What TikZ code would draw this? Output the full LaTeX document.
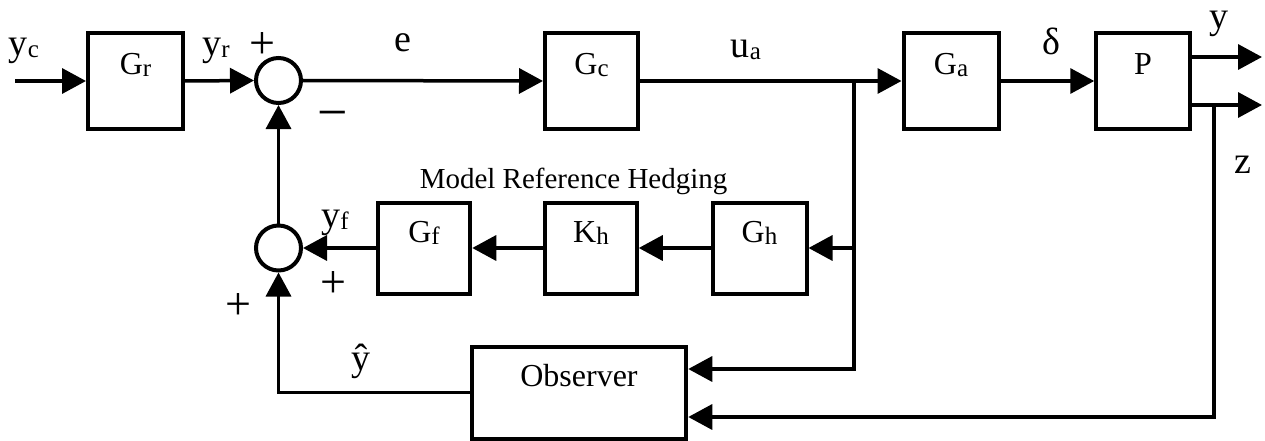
\documentclass[tikz,border=0pt]{standalone}
\usepackage{fontspec}
\setmainfont{Liberation Serif}
\usetikzlibrary{arrows.meta}
\newcommand\lsub[1]{\raisebox{-2pt}{\fontsize{25}{25}\selectfont #1}}
\begin{document}
\begin{tikzpicture}[x=1pt,y=-1pt,line width=3.5pt,
  blk/.style={draw,line width=4pt,minimum width=95pt,minimum height=95pt,inner sep=0pt,
              text height=0pt,text depth=12pt,font=\fontsize{32}{32}\selectfont},
  sumc/.style={draw,circle,line width=4pt,minimum size=45pt,inner sep=0pt},
  arr/.style={-{Triangle[length=24pt,width=25pt]}},
  sig/.style={anchor=base,inner sep=0pt,font=\fontsize{38}{38}\selectfont},
  pm/.style={inner sep=0pt,font=\fontsize{46}{46}\selectfont}]
\useasboundingbox (0,0) rectangle (1265,441);
% blocks
\node[blk] (Gr) at (135.5,81) {G\lsub{r}};
\node[sumc] (S1) at (278.5,80.5) {};
\node[blk,minimum width=93pt] (Gc) at (591.5,81) {G\lsub{c}};
\node[blk] (Ga) at (951,81) {G\lsub{a}};
\node[blk,minimum width=93.5pt] (P) at (1143,81) {P};
\node[sumc] (S2) at (278.5,248) {};
\node[blk,minimum width=92.5pt,minimum height=91pt] (Gf) at (424,248) {G\lsub{f}};
\node[blk,minimum width=91.5pt,minimum height=91pt] (Kh) at (591,248) {K\lsub{h}};
\node[blk,minimum width=94pt,minimum height=91pt] (Gh) at (759.5,248) {G\lsub{h}};
\node[blk,minimum width=214.5pt,minimum height=92pt] (Obs) at (579,392.5) {Observer};
% coordinates
\coordinate (in) at (15,81);
\coordinate (br) at (854,81);
\coordinate (bh) at (854,248);
\coordinate (bo) at (854,369);
\coordinate (yo) at (1262,57);
\coordinate (zo) at (1262,105);
\coordinate (zs) at (1214,105);
\coordinate (zb) at (1214,417);
% connectors
\draw[arr] (in) -- (Gr.west);
\draw[arr] (Gr.east) -- (S1.west);
\draw[arr] (S1.east) -- (Gc.west);
\draw[arr] (Gc.east) -- (Ga.west);
\draw[arr] (Ga.east) -- (P.west);
\draw[arr] (P.east|-yo) -- (yo);
\draw[arr] (P.east|-zo) -- (zo);
\draw[arr] (br) -- (bo) -- (Obs.east|-bo);
\draw[arr] (bh) -- (Gh.east);
\draw[arr] (zs) -- (zb) -- (Obs.east|-zb);
\draw[arr] (Gh.west) -- (Kh.east);
\draw[arr] (Kh.west) -- (Gf.east);
\draw[arr] (Gf.west) -- (S2.east);
\draw[arr] (S2.north) -- (S1.south);
\draw[arr] (Obs.west) -| (S2.south);
% signal labels
\node[sig] at (24,56) {y\lsub{c}};
\node[sig] at (216,56) {y\lsub{r}};
\node[sig] at (403,52) {e};
\node[sig] at (746,58) {u\lsub{a}};
\node[sig] at (1051,55) {δ};
\node[sig] at (1219,29) {y};
\node[sig] at (1243,173) {z};
\node[sig] at (335,227) {y\lsub{f}};
\node[sig] at (361,370) {ŷ};
\node[pm] at (262,46) {+};
\node[pm,font=\fontsize{54}{54}\selectfont] at (333,121) {−};
\node[pm] at (333,285) {+};
\node[pm] at (238,307) {+};
\node[anchor=base west,inner sep=0pt,font=\fontsize{29}{29}\selectfont] at (418,188) {Model Reference Hedging};
\end{tikzpicture}
\end{document}
